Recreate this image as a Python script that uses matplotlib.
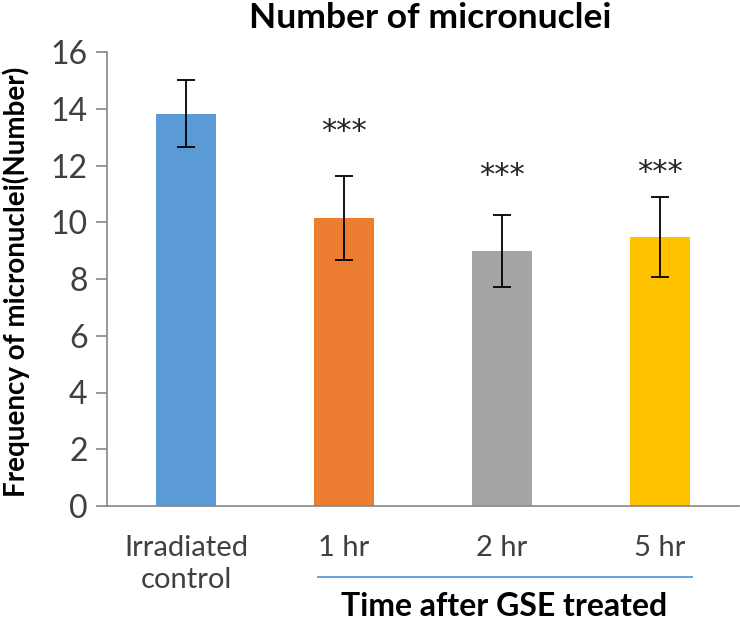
import matplotlib
matplotlib.use('Agg')
import matplotlib.pyplot as plt

# font similar to the Calibri look of the original
matplotlib.rcParams['font.family'] = ['Lato', 'DejaVu Sans']

groups = ['Irradiated\ncontrol', '1 hr', '2 hr', '5 hr']
means = [13.82, 10.15, 8.98, 9.48]
errors = [1.18, 1.47, 1.27, 1.40]
colors = ['#5B9BD5', '#ED7D31', '#A5A5A5', '#FFC000']
stars = ['', '***', '***', '***']
star_y = [0, 13.2, 11.65, 11.75]

fig = plt.figure(figsize=(7.4, 6.21), dpi=100)
ax = fig.add_axes([107/740, 1 - 506/621, 632/740, 454/621])

x = range(len(groups))
ax.bar(x, means, width=0.386, color=colors, zorder=2)
ax.errorbar(x, means, yerr=errors, fmt='none', ecolor='black',
            elinewidth=1.3, capsize=6.5, capthick=1.3, zorder=3)

for i in x:
    if stars[i]:
        ax.text(i, star_y[i], stars[i], ha='center', va='center',
                fontsize=22, color='#222222', family='DejaVu Sans')

ax.set_xlim(-0.5, 3.5)
ax.set_ylim(0, 16)
ax.set_yticks(range(0, 17, 2))
ax.set_xticks(list(x))
ax.set_xticklabels(groups, fontsize=21, color='#404040', linespacing=1.3)
ax.tick_params(axis='x', length=0, pad=21)
ax.tick_params(axis='y', labelsize=23, colors='#404040', length=8, width=1.2,
               color='#868686', pad=6)
for s in ['top', 'right']:
    ax.spines[s].set_visible(False)
for s in ['left', 'bottom']:
    ax.spines[s].set_color('#868686')
    ax.spines[s].set_linewidth(1.2)

fig.text(16/740, 1 - 282/621, 'Frequency of micronuclei(Number)', rotation=90,
         ha='center', va='center', fontsize=20, fontweight='bold')

fig.text(430/740, 1 - 18/621, 'Number of micronuclei', ha='center', va='center',
         fontsize=25.5, fontweight='bold')

# bracket line for the treated groups
fig.add_artist(plt.Line2D([318/740, 692/740], [1 - 577/621, 1 - 577/621],
                          color='#5B9BD5', lw=1.3))
fig.text(504/740, 1 - 607/621, 'Time after GSE treated', ha='center', va='center',
         fontsize=23, fontweight='bold')

fig.savefig('out.png', dpi=100)
